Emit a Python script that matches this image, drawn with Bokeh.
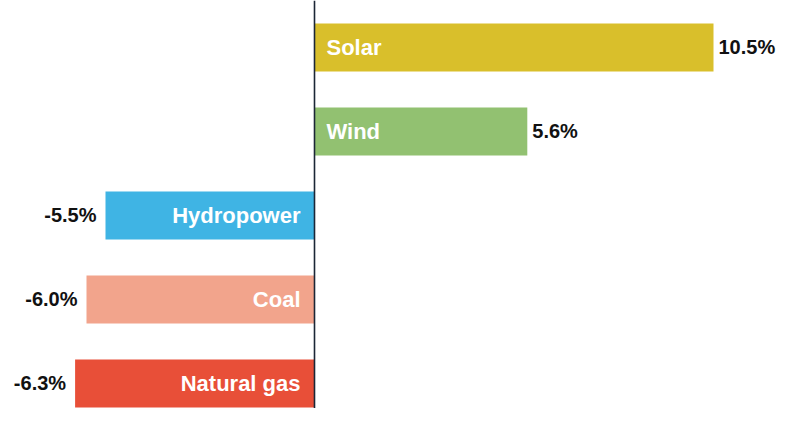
from bokeh.plotting import figure
from bokeh.models import ColumnDataSource, Span
from bokeh.core.properties import value
from bokeh.embed import file_html
from bokeh.resources import INLINE

# Data (bottom to top)
sources = ["Natural gas", "Coal", "Hydropower", "Wind", "Solar"]
changes = [-6.3, -6.0, -5.5, 5.6, 10.5]
colors = ["#E84F38", "#F2A48C", "#3FB4E4", "#92C171", "#D9BF2B"]

ypos = list(range(len(sources)))
val_labels = [f"{v:.1f}%" for v in changes]
name_align = ["left" if v > 0 else "right" for v in changes]
name_off = [12 if v > 0 else -14 for v in changes]
val_align = ["left" if v > 0 else "right" for v in changes]
val_off = [5 if v > 0 else -9 for v in changes]

src = ColumnDataSource(dict(
    y=ypos, v=changes, name=sources, color=colors, vlab=val_labels,
    nalign=name_align, noff=name_off, valign=val_align, voff=val_off,
    zero=[0] * len(sources),
))

W, H = 777, 408
PX = 38.0
Z = 314
p = figure(width=W, height=H, output_backend="svg", toolbar_location=None,
           x_range=(-Z / PX, (W - Z) / PX), y_range=(-0.298, -0.298 + H / 84.0),
           min_border=0, min_border_left=0, min_border_right=0,
           min_border_top=0, min_border_bottom=0)
p.axis.visible = False
p.grid.visible = False
p.outline_line_color = None
p.background_fill_color = "white"

p.hbar(y="y", left=0, right="v", height=0.571, color="color", line_color=None, source=src)

p.add_layout(Span(location=0, dimension="height", line_color="#1B2636", line_width=1.6))

p.text(x="zero", y="y", text="name", x_offset="noff", text_align="nalign",
       text_baseline="middle", text_color="white", text_font=value("Liberation Sans"),
       text_font_style="bold", text_font_size="22px", source=src)

p.text(x="v", y="y", text="vlab", x_offset="voff", text_align="valign",
       text_baseline="middle", text_color="#111111", text_font=value("Liberation Sans"),
       text_font_style="bold", text_font_size="20px", source=src)

open("out.html", "w").write(file_html(p, INLINE))
